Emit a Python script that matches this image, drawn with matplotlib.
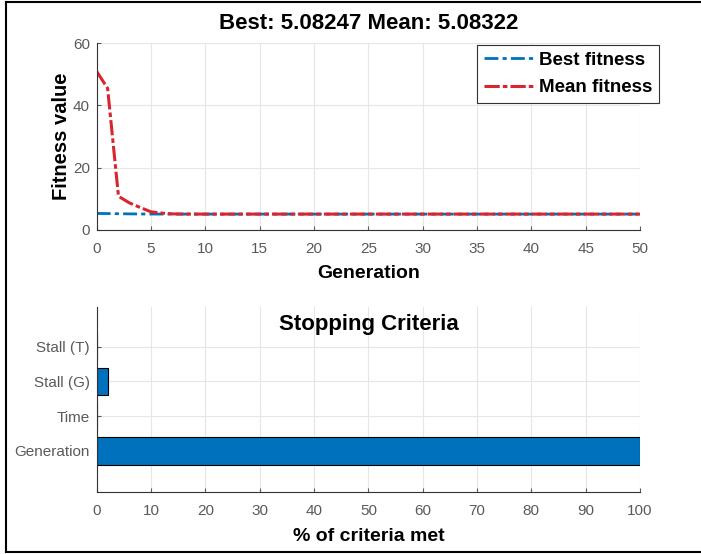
import matplotlib.pyplot as plt
from matplotlib.lines import Line2D

# data
gens = list(range(51))
mean_fit = [50.9, 45.5, 10.8, 8.7, 7.2, 5.8, 5.4, 5.15, 5.1, 5.09] + [5.083] * 41
best_fit = [5.3, 5.25, 5.2, 5.15, 5.12, 5.1, 5.09, 5.085] + [5.0825] * 43
criteria = ["Generation", "Time", "Stall (G)", "Stall (T)"]
crit_vals = [100, 0, 2, 0]

plt.rcParams['font.family'] = ['Liberation Sans', 'DejaVu Sans']
tick_col = '#5a5a5a'
grid_col = '#e6e6e6'

fig = plt.figure(figsize=(7.01, 5.54), dpi=100)

# top plot
ax1 = fig.add_axes([0.138, 0.585, 0.775, 0.337])
ax1.plot(gens, best_fit, color='#0072BD', lw=2, ls=(0, (5, 1.5, 1.5, 1.5)), label='Best fitness')
ax1.plot(gens, mean_fit, color='#D9262E', lw=2.2, ls=(0, (5, 1, 1.5, 1)), label='Mean fitness')
ax1.set_xlim(0, 50)
ax1.set_ylim(0, 60)
ax1.set_xticks(range(0, 51, 5))
ax1.set_yticks([0, 20, 40, 60])
ax1.grid(True, color=grid_col, lw=0.8)
ax1.set_axisbelow(True)
ax1.set_title('Best: 5.08247 Mean: 5.08322', fontsize=16, fontweight='bold', pad=10)
ax1.set_xlabel('Generation', fontsize=14, fontweight='bold', labelpad=6)
ax1.set_ylabel('Fitness value', fontsize=14.5, fontweight='bold', labelpad=1)
leg = ax1.legend(loc='upper right', bbox_to_anchor=(1.042, 1.01), prop={'size': 13.5, 'weight': 'bold'},
                 handlelength=2.8, handletextpad=0.15, borderpad=0.35, labelspacing=0.55,
                 borderaxespad=0.2, fancybox=False, edgecolor='#333333', framealpha=1)
leg.get_frame().set_linewidth(0.8)

# bottom plot
ax2 = fig.add_axes([0.138, 0.1125, 0.775, 0.334])
ypos = [1, 2, 3, 4]
ax2.barh(ypos, crit_vals, height=0.8, color='#0072BD', edgecolor='black', lw=0.8)
ax2.set_xlim(0, 100)
ax2.set_ylim(-0.17, 5.15)
ax2.set_xticks(range(0, 101, 10))
ax2.set_yticks(ypos)
ax2.set_yticklabels(criteria)
ax2.grid(True, color=grid_col, lw=0.8)
ax2.set_axisbelow(True)
ax2.set_title('Stopping Criteria', fontsize=16, fontweight='bold', y=0.83)
ax2.set_xlabel('% of criteria met', fontsize=14, fontweight='bold', labelpad=7)

for ax in (ax1, ax2):
    ax.spines['top'].set_visible(False)
    ax.spines['right'].set_visible(False)
    for s in ('left', 'bottom'):
        ax.spines[s].set_color('#333333')
    ax.tick_params(labelsize=11, colors=tick_col, length=3, direction='in', pad=5)
    ax.tick_params(axis='x', pad=9)
    for lab in ax.get_xticklabels() + ax.get_yticklabels():
        lab.set_color(tick_col)

# frame round the whole picture
fig.add_artist(Line2D([0.0086, 0.0086], [0.004, 0.997], color='black', lw=1.5, transform=fig.transFigure))
fig.add_artist(Line2D([0.0086, 1.0], [0.997, 0.997], color='black', lw=1.5, transform=fig.transFigure))
fig.add_artist(Line2D([0.0086, 1.0], [0.004, 0.004], color='black', lw=1.5, transform=fig.transFigure))

fig.savefig('out.png', dpi=100)
